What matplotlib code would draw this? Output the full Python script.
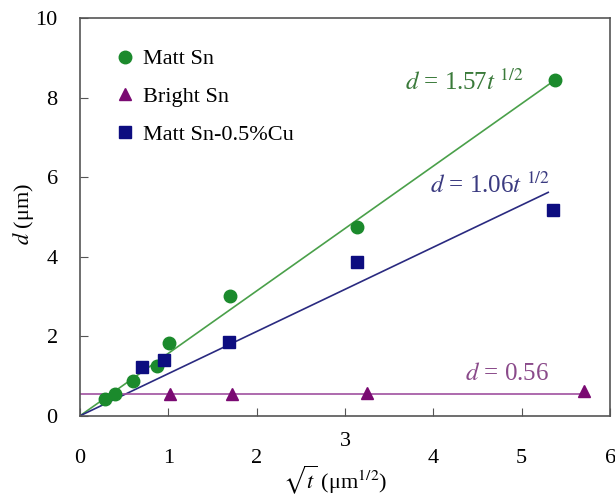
import numpy as np
import matplotlib.pyplot as plt
from matplotlib.transforms import offset_copy

plt.rcParams['font.family'] = ['Liberation Serif', 'DejaVu Serif']
plt.rcParams['mathtext.fontset'] = 'stix'

# data
matt_x = [0.28, 0.40, 0.60, 0.87, 1.01, 1.70, 3.14, 5.38]
matt_y = [0.43, 0.55, 0.88, 1.26, 1.83, 3.00, 4.75, 8.44]

bright_x = [1.02, 1.72, 3.25, 5.71]
bright_y = [0.56, 0.56, 0.57, 0.62]

cu_x = [0.70, 0.95, 1.69, 3.13, 5.35]
cu_y = [1.23, 1.41, 1.86, 3.87, 5.18]

k_matt = 1.57
k_cu = 1.06
d_bright = 0.56

green = '#1b8a2c'
navy = '#0d0d80'
purple = '#7a0a72'

fig = plt.figure(figsize=(6.15, 5.01), dpi=100)
ax = fig.add_axes([0.130, 0.170, 0.862, 0.794])

x1 = np.array([0, 5.40])
ax.plot(x1, k_matt * x1, '-', color='#4aa04a', lw=1.2)
x2 = np.array([0, 5.30])
ax.plot(x2, k_cu * x2, '-', color='#2a2a80', lw=1.2)
ax.plot([0, 5.70], [d_bright, d_bright], '-', color='#a050a0', lw=1.2)

ax.plot(matt_x, matt_y, 'o', color=green, ms=9, label='Matt Sn', ls='none')
ax.plot(bright_x, bright_y, '^', color=purple, ms=9, label='Bright Sn', ls='none')
ax.plot(cu_x, cu_y, 's', color=navy, ms=8.5, label='Matt Sn-0.5%Cu', ls='none')

ax.text(3.68, 8.2, r'$d$ = 1.57$t^{\ 1/2}$', color='#3a7a3a', fontsize=18,
        ha='left', va='baseline')
ax.text(3.96, 5.6, r'$d$ = 1.06$t^{\ 1/2}$', color='#3a3a80', fontsize=18,
        ha='left', va='baseline')
ax.text(4.36, 0.9, r'$d$ = 0.56', color='#8a4a8a', fontsize=18,
        ha='left', va='baseline')

ax.set_xlim(0, 6)
ax.set_ylim(0, 10)
ax.set_xticks(range(0, 7))
ax.set_yticks(range(0, 11, 2))
ax.tick_params(direction='in', length=6, labelsize=16, color='#555555')
ax.tick_params(axis='x', pad=24)
ax.tick_params(axis='y', pad=16)
for s in ax.spines.values():
    s.set_color('#555555')
    s.set_linewidth(1.2)

ax.set_xlabel(r'$\sqrt{t}$ (μm$^{1/2}$)', fontsize=16)
ax.xaxis.set_label_coords(0.481, -0.118)
ax.set_ylabel(r'$d$ (μm)', fontsize=16)
ax.yaxis.set_label_coords(-0.083, 0.508)

# the "3" sits a bit higher in the original, clear of the axis title
lab3 = ax.get_xticklabels()[3]
lab3.set_transform(offset_copy(lab3.get_transform(), fig=fig, y=12, units='points'))

leg = ax.legend(loc='upper left', frameon=False, fontsize=16, handletextpad=0.3,
                handlelength=1.0, borderaxespad=0.0, labelspacing=0.78,
                bbox_to_anchor=(0.047, 0.945))

fig.savefig('out.png', dpi=100)
